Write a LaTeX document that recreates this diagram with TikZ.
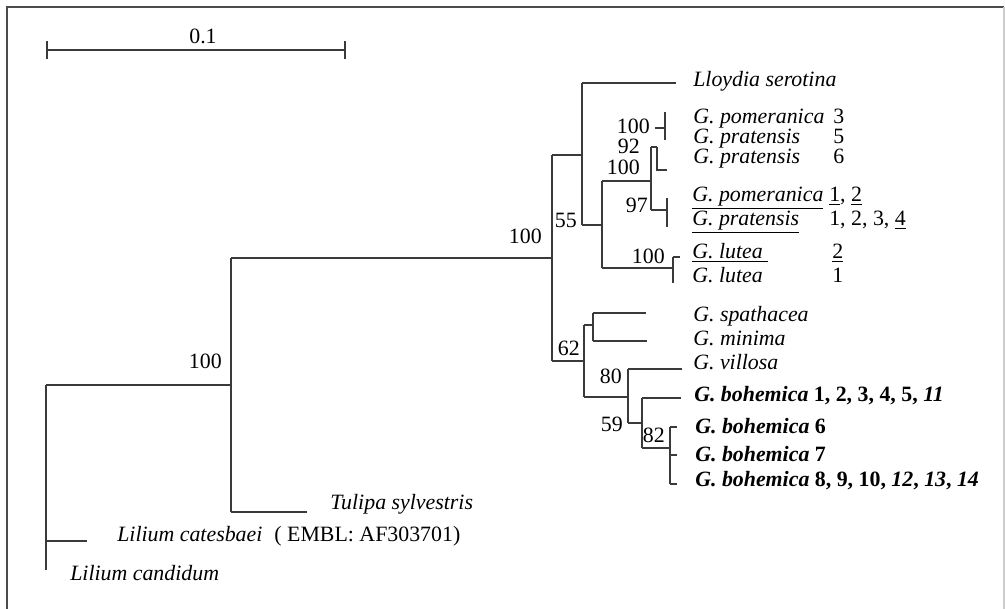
\documentclass[tikz,border=0pt]{standalone}
\usepackage{fontspec}
\setmainfont{Liberation Serif}
\definecolor{branch}{HTML}{3A3A3A}
\begin{document}
\begin{tikzpicture}[x=0.75pt,y=-0.75pt,
  br/.style={draw=branch,line width=0.85pt},
  thickbr/.style={draw=branch,line width=1.6pt},
  frm/.style={draw=black!70,line width=0.9pt},
  lbl/.style={inner sep=0pt,anchor=west,text height=0.68em,text depth=0.08em,font=\fontsize{16.4pt}{19pt}\selectfont},
  sup/.style={inner sep=0pt,anchor=east,text height=0.62em,text depth=0em,font=\fontsize{16.4pt}{19pt}\selectfont}]
\useasboundingbox (0,0) rectangle (1005,609);
% frame
\draw[frm] (7,609) -- (7,7) -- (1004,7);
\draw[draw=black!20,line width=0.9pt] (1004,7) -- (1004,609);
% scale bar
\coordinate (sbL) at (47,50);
\coordinate (sbR) at (345,50);
\draw[br] (sbL) -- (sbR);
\draw[br] ([yshift=-7]sbL) -- ([yshift=7]sbL);
\draw[br] ([yshift=-7]sbR) -- ([yshift=7]sbR);
\node[inner sep=0pt,font=\fontsize{16.4pt}{19pt}\selectfont] (sblab) at (203,36) {0.1};
% internal nodes (coordinates)
\coordinate (r) at (46,385);
\coordinate (rb) at (46,570);
\coordinate (lcat) at (87,541);
\coordinate (n1) at (231,385);
\coordinate (n1t) at (231,258);
\coordinate (n1b) at (231,512);
\coordinate (tul) at (307,512);
\coordinate (n2) at (552,258);
\coordinate (n2t) at (552,155);
\coordinate (n2b) at (552,361);
\coordinate (n3t) at (582,83);
\coordinate (n3b) at (582,225);
\coordinate (lloy) at (676,83);
\coordinate (n4) at (602,225);
\coordinate (n4t) at (602,181);
\coordinate (n4b) at (602,268);
\coordinate (n5t) at (651,181);
\coordinate (n5a) at (651,147);
\coordinate (n5b) at (651,210);
\coordinate (n6t) at (657,147);
\coordinate (n6b) at (657,170);
\coordinate (prat6) at (667,170);
\coordinate (n7h) at (655,128);
\coordinate (n7) at (665,128);
\coordinate (n7t) at (665,112);
\coordinate (n7b) at (665,140);
\coordinate (n8) at (667,210);
\coordinate (n8t) at (667,198);
\coordinate (n8b) at (667,227);
\coordinate (n9) at (673,268);
\coordinate (n9t) at (673,257);
\coordinate (n9b) at (673,283);
\coordinate (lut2) at (680,257);
\coordinate (n10t) at (584,325);
\coordinate (n10b) at (584,397);
\coordinate (n11) at (593,325);
\coordinate (n11t) at (593,313);
\coordinate (n11b) at (593,341);
\coordinate (spa) at (646,313);
\coordinate (mini) at (647,341);
\coordinate (n12) at (628,397);
\coordinate (n12t) at (628,369);
\coordinate (n12b) at (628,423);
\coordinate (vil) at (682,369);
\coordinate (n13) at (642,423);
\coordinate (n13t) at (642,398);
\coordinate (n13b) at (642,448);
\coordinate (boh1) at (681,398);
\coordinate (n14) at (670,448);
\coordinate (n14t) at (670,427);
\coordinate (n14m) at (670,455);
\coordinate (n14k) at (670,467);
\coordinate (n14b) at (670,484);
% branches
\draw[br] (r) -- (rb);
\draw[thickbr] (46,463) -- (46,541);
\draw[br] (46,541) -- (lcat);
\draw[br] (r) -- (n1);
\draw[br] (n1t) -- (n1b);
\draw[br] (n1b) -- (tul);
\draw[br] (n1t) -- (n2);
\draw[br] (n2t) -- (n2b);
\draw[br] (n2t) -- (n3t |- n2t);
\draw[br] (n3t) -- (n3b);
\draw[br] (n3t) -- (lloy);
\draw[br] (n3b) -- (n4);
\draw[br] (n4t) -- (n4b);
\draw[br] (n4t) -- (n5t);
\draw[br] (n5a) -- (n5b);
\draw[br] (n5a) -- (n6t);
\draw[br] (n6t) -- (n6b) -- (prat6);
\draw[br] (n7h) -- (n7);
\draw[br] (n7t) -- (n7b);
\draw[br] (n5b) -- (n8);
\draw[br] (n8t) -- (n8b);
\draw[br] (n4b) -- (n9);
\draw[br] (n9t) -- (n9b);
\draw[br] (n9t) -- (lut2);
\draw[br] (n2b) -- (n2b -| n10t);
\draw[br] (n10t) -- (n10b);
\draw[br] (n10t) -- (n11);
\draw[br] (n11t) -- (n11b);
\draw[br] (n11t) -- (spa);
\draw[br] (n11b) -- (mini);
\draw[br] (n10b) -- (n12);
\draw[br] (n12t) -- (n12b);
\draw[br] (n12t) -- (vil);
\draw[br] (n12b) -- (n13);
\draw[br] (n13t) -- (n13b);
\draw[br] (n13t) -- (boh1);
\draw[br] (n13b) -- (n14);
\draw[br] (n14t) -- (n14b);
\draw[thickbr] (n14m) -- (n14k);
\draw[br] (n14t) -- ++(7,0);
\draw[br] (n14m) -- ++(7,0);
\draw[br] (n14b) -- ++(7,0);
% support values
\node[sup] (s1) at (222,364) {100};
\node[sup] (s2) at (542,239) {100};
\node[sup] (s3) at (577,223) {55};
\node[sup] (s4) at (650,129) {100};
\node[sup] (s5) at (640,149) {92};
\node[sup] (s6) at (640,170) {100};
\node[sup] (s7) at (648,208) {97};
\node[sup] (s8) at (665,259) {100};
\node[sup] (s9) at (580,351) {62};
\node[sup] (s10) at (622,379) {80};
\node[sup] (s11) at (623,427) {59};
\node[sup] (s12) at (665,438) {82};
% taxon labels
\node[lbl] (t1) at (693,83) {\textit{Lloydia serotina}};
\node[lbl] (t2) at (693,120) {\textit{G. pomeranica}};
\node[lbl] (t2n) at (833,120) {3};
\node[lbl] (t3) at (693,140) {\textit{G. pratensis}};
\node[lbl] (t3n) at (833,140) {5};
\node[lbl] (t4) at (693,160) {\textit{G. pratensis}};
\node[lbl] (t4n) at (833,160) {6};
\node[lbl] (t5) at (692,198) {\underline{\textit{G. pomeranica}}};
\node[lbl] (t5n) at (829,198) {\underline{1}, \underline{2}};
\node[lbl] (t6) at (692,222) {\underline{\textit{G. pratensis}}};
\node[lbl] (t6n) at (829,222) {1, 2, 3, \underline{4}};
\node[lbl] (t7) at (692,255) {\underline{\textit{G. lutea}\ }};
\node[lbl] (t7n) at (832,255) {\underline{2}};
\node[lbl] (t8) at (692,278) {\textit{G. lutea}};
\node[lbl] (t8n) at (832,278) {1};
\node[lbl] (t9) at (693,317) {\textit{G. spathacea}};
\node[lbl] (t10) at (693,341) {\textit{G. minima}};
\node[lbl] (t11) at (693,365) {\textit{G. villosa}};
\node[lbl] (t12) at (694,397) {\textbf{\textit{G. bohemica} 1, 2, 3, 4, 5, \textit{11}}};
\node[lbl] (t13) at (695,429) {\textbf{\textit{G. bohemica} 6}};
\node[lbl] (t14) at (695,457) {\textbf{\textit{G. bohemica} 7}};
\node[lbl] (t15) at (695,482) {\textbf{\textit{G. bohemica} 8, 9, 10, \textit{12}, \textit{13}, \textit{14}}};
\node[lbl] (t16) at (330,505) {\textit{Tulipa sylvestris}};
\node[lbl] (t17) at (117,537) {\textit{Lilium catesbaei}\hspace{0.55em}( EMBL: AF303701)};
\node[lbl] (t18) at (70,576) {\textit{Lilium candidum}};
\end{tikzpicture}
\end{document}
